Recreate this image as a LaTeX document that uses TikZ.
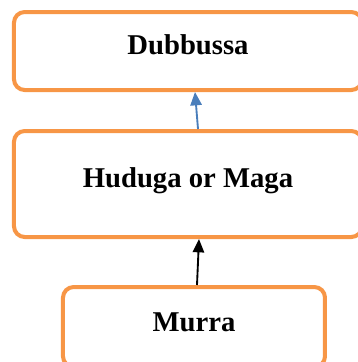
\documentclass[tikz,border=0pt]{standalone}
\usepackage{fontspec}
\setmainfont{Liberation Serif}
\usetikzlibrary{arrows.meta,positioning}
\definecolor{boxorange}{HTML}{F79646}
\definecolor{arrowblue}{HTML}{4A7EBB}

\begin{document}
\begin{tikzpicture}[x=0.75pt,y=-0.75pt,
    every node/.style={font=\fontsize{21.5pt}{24pt}\selectfont\bfseries,inner sep=0pt,text height=15pt,text depth=10pt},
    stage/.style={draw=boxorange,line width=3pt,rounded corners=8pt,minimum width=261pt},
    link/.style={line width=1.4pt,-{Triangle[length=10pt,width=8.5pt]}}]
    \useasboundingbox (0,0) rectangle (358,362);

    \node[stage,minimum height=58.5pt] (DUBBUSSA) at (188,51) {Dubbussa};
    \node[stage,minimum height=79.5pt] (HUDUGA) at (188,184) {Huduga or Maga};
    \node[stage,minimum height=60pt,minimum width=196.5pt,text depth=8pt] (MURRA) at (194,327) {Murra};

    \draw[link,arrowblue] ([xshift=7.5pt]HUDUGA.north) -- ([xshift=5.25pt]DUBBUSSA.south);
    \draw[link,black] ([xshift=2.25pt]MURRA.north) -- ([xshift=8.25pt]HUDUGA.south);
\end{tikzpicture}
\end{document}
